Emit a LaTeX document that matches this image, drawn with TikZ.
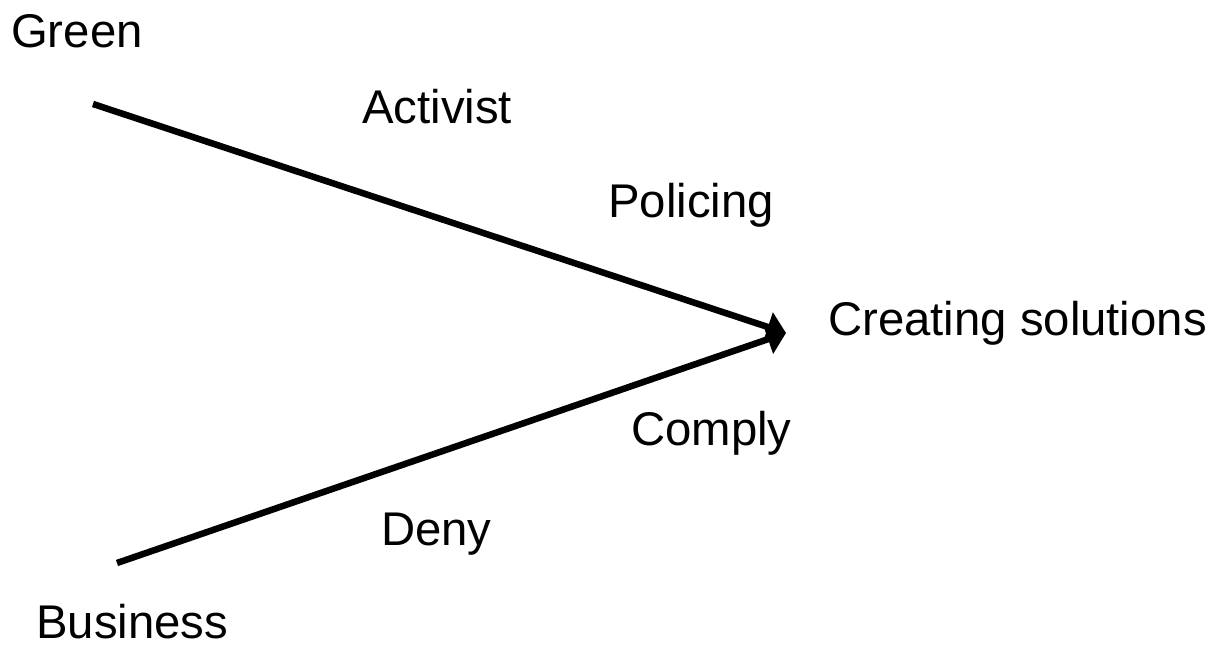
\documentclass[tikz,border=0pt]{standalone}
\usepackage{fontspec}
\setmainfont{Liberation Sans}
\usetikzlibrary{arrows.meta}
\begin{document}
\begin{tikzpicture}[x=1pt,y=-1pt,
  lbl/.style={anchor=base west,inner sep=0pt,font=\fontsize{47.3}{56}\selectfont},
  conn/.style={line width=6.5pt,-{Triangle[length=19pt,width=30pt]}}]
\useasboundingbox (0,0) rectangle (1218,645);
\node[lbl] (green) at (11,47) {Green};
\node[lbl] (business) at (36,638) {Business};
\node[lbl] (activist) at (362,123) {Activist};
\node[lbl] (policing) at (608,217) {Policing};
\node[lbl] (creating) at (828,335) {Creating solutions};
\node[lbl] (comply) at (631,445) {Comply};
\node[lbl] (deny) at (381,545) {Deny};
\coordinate (gstart) at (93,104);
\coordinate (bstart) at (117,563);
\coordinate (tip) at (786,333);
\draw[conn] (gstart) -- (tip);
\draw[conn] (bstart) -- (tip);
\end{tikzpicture}
\end{document}
